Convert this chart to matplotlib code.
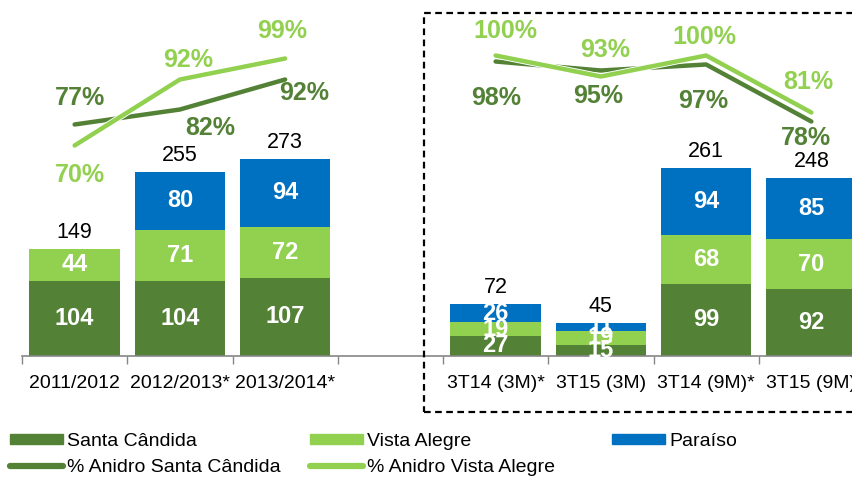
"""Etanol anidro: produção por unidade (barras) e % anidro (linhas)."""
import numpy as np
import matplotlib
matplotlib.use("Agg")
import matplotlib.pyplot as plt
import matplotlib.patheffects as pe
from matplotlib.patches import Rectangle
from matplotlib.lines import Line2D

# ----------------------------- Dados -----------------------------
categorias = ["2011/2012", "2012/2013*", "2013/2014*", "",
              "3T14 (3M)*", "3T15 (3M)", "3T14 (9M)*", "3T15 (9M)"]
santa_candida = [104, 104, 107, 0, 27, 15, 99, 92]
vista_alegre  = [44, 71, 72, 0, 19, 19, 68, 70]
paraiso       = [0, 80, 94, 0, 26, 11, 94, 85]
totais        = [149, 255, 273, None, 72, 45, 261, 248]
pct_santa     = [77, 82, 92, np.nan, 98, 95, 97, 78]
pct_vista     = [70, 92, 99, np.nan, 100, 93, 100, 81]

# deslocamento dos rótulos de % (pontos)
off_santa = [(4, 19), (22, -13), (14, -10), None, (0, -26), (-2, -18), (-2, -26), (-4, -12)]
off_vista = [(4, -21), (6, 14), (-2, 20), None, (7, 18), (3, 19), (-1, 13), (-2, 22)]

# ----------------------------- Estilo -----------------------------
COR_SC = "#538135"
COR_VA = "#92D050"
COR_PA = "#0070C0"
COR_EIXO = "#868686"

plt.rcParams["font.family"] = ["Liberation Sans", "DejaVu Sans"]

fig = plt.figure(figsize=(8.52, 4.78), dpi=100)
W, H = 852, 478
x0, passo, base = 22, 105.25, 355.5
ax = fig.add_axes([x0 / W, (H - base) / H, 8 * passo / W, base / H])
ax2 = ax.twinx()

x = np.arange(len(categorias))
larg = 0.86
sc = np.array(santa_candida)
va = np.array(vista_alegre)
pa = np.array(paraiso)
ax.bar(x, sc, larg, color=COR_SC, zorder=2)
ax.bar(x, va, larg, bottom=sc, color=COR_VA, zorder=2)
ax.bar(x, pa, larg, bottom=sc + va, color=COR_PA, zorder=2)

for xi, (a, b, c) in enumerate(zip(sc, va, pa)):
    for b0, v in ((0, a), (a, b), (a + b, c)):
        if v > 0:
            ax.text(xi, b0 + v / 2, f"{v}", ha="center", va="center",
                    color="white", fontsize=17, fontweight="bold", zorder=3)
for xi, t in enumerate(totais):
    if t is not None:
        ax.text(xi, sc[xi] + va[xi] + pa[xi] + 8, f"{t}",
                ha="center", va="bottom", fontsize=15.5, color="black")

ax.set_xlim(-0.5, len(categorias) - 0.5)
ax.set_ylim(0, base / 0.72)
ax.set_xticks(x)
ax.set_xticklabels(categorias, fontsize=14)
ax.set_xticks(np.arange(len(categorias) + 1) - 0.5, minor=True)
ax.tick_params(axis="x", which="major", length=0, pad=14)
ax.tick_params(axis="x", which="minor", length=6, color=COR_EIXO, width=1)
ax.set_yticks([])
for s in ["top", "right", "left"]:
    ax.spines[s].set_visible(False)
ax.spines["bottom"].set_color(COR_EIXO)
ax.spines["bottom"].set_linewidth(1.2)

# --- linhas de % anidro ---
ax2.plot(x, pct_santa, color=COR_SC, lw=3.2, solid_capstyle="round", zorder=4)
ax2.plot(x, pct_vista, color=COR_VA, lw=3.2, solid_capstyle="round", zorder=5,
         path_effects=[pe.Stroke(linewidth=4.5, foreground="white"), pe.Normal()])
ax2.set_ylim(0, base / 3.0)
ax2.set_yticks([])
for s in ["top", "right", "left", "bottom"]:
    ax2.spines[s].set_visible(False)

for serie, offs, cor in ((pct_santa, off_santa, COR_SC), (pct_vista, off_vista, COR_VA)):
    for xi, (v, o) in enumerate(zip(serie, offs)):
        if o is not None:
            ax2.annotate(f"{v:.0f}%", (xi, v), xytext=o, textcoords="offset points",
                         ha="center", va="center", color=cor, fontsize=18,
                         fontweight="bold", zorder=6)

# --- caixa tracejada dos trimestres ---
fig.patches.append(Rectangle((424 / W, (H - 412) / H), 460 / W, 399 / H,
                             transform=fig.transFigure, fill=False,
                             edgecolor="black", lw=1.6, linestyle=(0, (3, 2))))

# --- legenda (uma coluna por bloco, como no original) ---
blocos = [
    (10, [Rectangle((0, 0), 1, 1, color=COR_SC),
          Line2D([], [], color=COR_SC, lw=4.5, solid_capstyle="round")],
     ["Santa Cândida", "% Anidro Santa Cândida"]),
    (310, [Rectangle((0, 0), 1, 1, color=COR_VA),
           Line2D([], [], color=COR_VA, lw=4.5, solid_capstyle="round")],
     ["Vista Alegre", "% Anidro Vista Alegre"]),
    (612, [Rectangle((0, 0), 1, 1, color=COR_PA)], ["Paraíso"]),
]
for xpos, hs, ls in blocos:
    fig.legend(hs, ls, loc="upper left", bbox_to_anchor=(xpos / W, (H - 433) / H),
               frameon=False, fontsize=14, handlelength=2.7, handleheight=0.45,
               handletextpad=0.25, labelspacing=0.45, borderpad=0,
               borderaxespad=0)

fig.savefig("out.png", dpi=100)
